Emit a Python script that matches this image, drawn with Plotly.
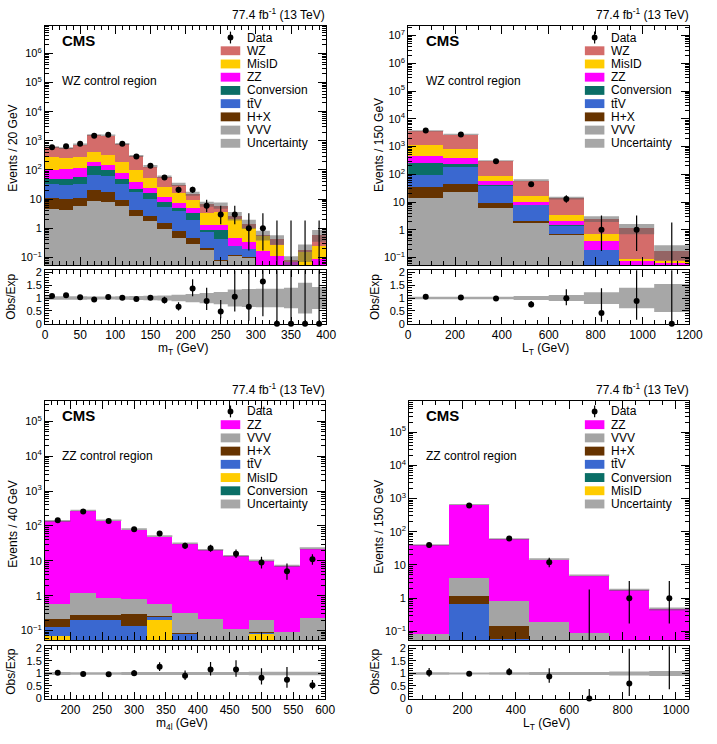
import plotly.graph_objects as go

W, H = 717, 744
FONT = "Liberation Sans, Arial, Helvetica, sans-serif"

# ================= DATA =================
# --- WZ control region, m_T (20 GeV bins) ---
mt_edges = [0, 20, 40, 60, 80, 100, 120, 140, 160, 180, 200, 220, 240, 260, 280, 300, 320, 340, 360, 380, 400]
mt_data = [600, 650, 800, 1500, 1600, 790, 290, 140, 55, 21, 21, 6, 3, 3, 1, 1, 0, 0, 0, 0]
mt_ratio = [1.08, 1.11, 1.03, 0.94, 1.04, 1.01, 0.96, 1.01, 0.91, 0.66, 1.37, 0.88, 0.47, 1.05, 0.66, 1.65, 0, 0, 0, 0]
mt_unc = [0.07, 0.07, 0.07, 0.06, 0.06, 0.07, 0.08, 0.09, 0.10, 0.13, 0.16, 0.20, 0.24, 0.33, 0.35, 0.36, 0.36, 0.40, 0.60, 0.43]
mt_VVV = [4.8, 4.4, 6.2, 8.9, 8.5, 6.0, 2.8, 1.8, 1.0, 0.49, 0.30, 0.19, 0.08, 0.12, 0.10, 0.01, 0.005, 0.002, 0.002, 0.005]
mt_HX = [6.7, 5.7, 5.3, 12, 9.0, 3.6, 1.6, 1.0, 0.56, 0.33, 0.16, 0.02, 0.005, 0.005, 0.003, 0.002, 0.001, 0.001, 0.001, 0.001]
mt_ttV = [22, 20.8, 23.7, 46, 44.5, 25.6, 13.1, 7.6, 4.1, 3.05, 1.56, 0.61, 0.35, 0.13, 0.09, 0.02, 0.01, 0.002, 0.003, 0.003]
mt_Conv = [18.6, 18.4, 24, 72, 37, 14.1, 5.1, 5.8, 2.75, 1.43, 1.38, 0.05, 0.43, 0, 0, 0, 0, 0, 0, 0]
mt_ZZ = [53, 64, 60, 51, 56, 33.7, 17.4, 8.9, 4.0, 2.5, 1.9, 0.43, 0.44, 0.24, 0.145, 0.14, 0.10, 0.07, 0.01, 0.08]
mt_MisID = [176, 147, 162, 246, 182, 117, 59, 29.6, 13.3, 8.4, 4.3, 2.1, 2.4, 1.7, 0.75, 0.41, 0.15, 0.002, 0.15, 0.17]
mt_WZ = [331, 300, 469, 1144, 1213, 580, 201, 80, 33, 16, 6.0, 3.4, 2.5, 0.55, 0.38, 0.02, 0.16, 0.002, 0.01, 0.35]
mt_xticks = [0, 50, 100, 150, 200, 250, 300, 350, 400]

# --- WZ control region, L_T (150 GeV bins) ---
lt3_edges = [0, 150, 300, 450, 600, 750, 900, 1050, 1200]
lt3_data = [3790, 2720, 298, 44, 13, 1, 1, 0]
lt3_ratio = [1.05, 1.02, 0.98, 0.75, 0.99, 0.42, 0.88, 0]
lt3_unc = [0.05, 0.05, 0.05, 0.08, 0.12, 0.23, 0.40, 0.55]
lt3_VVV = [14, 24.2, 6.2, 1.9, 0.7, 0.03, 0.005, 0.002]
lt3_HX = [20.5, 23.6, 3.1, 0.16, 0.02, 0.01, 0.001, 0.001]
lt3_ttV = [60, 139, 32, 6.0, 0.73, 0.15, 0.005, 0.002]
lt3_Conv = [172, 59, 1.5, 0.3, 0.05, 0, 0, 0]
lt3_ZZ = [193, 145, 14.6, 2.3, 0.57, 0.21, 0.07, 0.058]
lt3_MisID = [705, 448, 29, 6.7, 1.5, 0.3, 0.01, 0.015]
lt3_WZ = [2535, 1911, 223, 44, 10.4, 1.8, 1.07, 0.1]
lt3_xticks = [0, 200, 400, 600, 800, 1000, 1200]

# --- ZZ control region, m_4l (40 GeV bins) ---
m4l_edges = [160, 200, 240, 280, 320, 360, 400, 440, 480, 520, 560, 600]
m4l_data = [145, 261, 139, 81, 61, 27, 23, 16, 9, 5, 11]
m4l_ratio = [1.03, 0.98, 0.97, 1.01, 1.26, 0.91, 1.16, 1.16, 0.83, 0.75, 0.53]
m4l_unc = [0.06, 0.05, 0.05, 0.06, 0.06, 0.06, 0.06, 0.06, 0.07, 0.07, 0.07]
m4l_Conv = [0.003, 0, 0, 0, 0, 0, 0, 0, 0, 0, 0]
m4l_MisID = [0.07, 0, 0, 0, 0.21, 0, 0, 0, 0.085, 0, 0]
m4l_ttV = [0.06, 0.2, 0.2, 0.14, 0.05, 0.085, 0.002, 0, 0.005, 0, 0]
m4l_HX = [0.09, 0.09, 0.085, 0.175, 0.005, 0.003, 0.002, 0.001, 0.001, 0.001, 0.002]
m4l_VVV = [0.38, 0.95, 0.61, 0.5, 0.33, 0.24, 0.21, 0.115, 0.115, 0.09, 0.24]
m4l_ZZ = [138.4, 277.7, 144.1, 80.2, 50.4, 31.4, 20.3, 13.8, 10.0, 7.1, 22.6]
m4l_xticks = [200, 250, 300, 350, 400, 450, 500, 550, 600]

# --- ZZ control region, L_T (150 GeV bins) ---
lt4_edges = [0, 150, 300, 450, 600, 750, 900, 1050]
lt4_data = [40, 620, 63, 12, 0, 1, 1]
lt4_ratio = [1.03, 0.99, 1.06, 0.88, 0, 0.60, 2.13]
lt4_unc = [0.05, 0.04, 0.05, 0.06, 0.06, 0.08, 0.10]
lt4_MisID = [0, 0, 0, 0, 0, 0, 0]
lt4_Conv = [0, 0, 0.005, 0, 0, 0, 0]
lt4_ttV = [0, 0.7, 0.055, 0, 0, 0, 0]
lt4_HX = [0, 0.46, 0.09, 0, 0, 0, 0]
lt4_VVV = [0.085, 2.9, 0.72, 0.2, 0.09, 0.01, 0.005]
lt4_ZZ = [40.1, 659, 59.6, 14.8, 4.8, 1.77, 0.47]
lt4_xticks = [0, 200, 400, 600, 800, 1000]

# ================= STYLE =================
COLORS = {
    "WZ": "#d46c6a",
    "MisID": "#ffcc00",
    "ZZ": "#ff00ff",
    "Conversion": "#0a6e66",
    "ttV": "#3a68d0",
    "H+X": "#663300",
    "VVV": "#a4a4a4",
}
UNC_FILL = "rgba(95,95,95,0.55)"
LABELS = {"ttV": "t\u0074\u0304V"}

# Garwood 68% Poisson interval half-widths (low, high) for small counts
GARWOOD = {0: (0.0, 1.841), 1: (0.827, 2.299), 2: (1.292, 2.638), 3: (1.633, 2.918),
           4: (1.914, 3.162), 5: (2.159, 3.382), 6: (2.380, 3.583), 7: (2.581, 3.770),
           8: (2.768, 3.945), 9: (2.943, 4.110), 10: (3.108, 4.266)}


def poisson_err(n):
    if n in GARWOOD:
        return GARWOOD[n]
    s = n ** 0.5
    return (s, s + 1.0)


def px_x(p):
    return p / W


def px_y(p):
    return 1 - p / H


panels = [
    dict(edges=mt_edges, data=mt_data, ratio=mt_ratio, unc=mt_unc,
         stack=[("VVV", mt_VVV), ("H+X", mt_HX), ("ttV", mt_ttV), ("Conversion", mt_Conv),
                ("ZZ", mt_ZZ), ("MisID", mt_MisID), ("WZ", mt_WZ)],
         legend=["WZ", "MisID", "ZZ", "Conversion", "ttV", "H+X", "VVV"],
         xpx=(43, 331), main_ypx=(22, 265), ratio_ypx=(270, 324),
         yrange=(-1.272, 6.946), ytop=6, xticks=mt_xticks, xminor=10,
         xtitle="m<sub>T</sub> (GeV)", ytitle="Events / 20 GeV", region="WZ control region",
         ytitle_xy=(10, 146), obs_xy=(8, 297), xtitle_y=350,
         text_x=58, lumi_xy=(332, 10), top_y=22, leg_box_x=223, leg_text_x=248, leg_y0=34),
    dict(edges=lt3_edges, data=lt3_data, ratio=lt3_ratio, unc=lt3_unc,
         stack=[("VVV", lt3_VVV), ("H+X", lt3_HX), ("ttV", lt3_ttV), ("Conversion", lt3_Conv),
                ("ZZ", lt3_ZZ), ("MisID", lt3_MisID), ("WZ", lt3_WZ)],
         legend=["WZ", "MisID", "ZZ", "Conversion", "ttV", "H+X", "VVV"],
         xpx=(415, 703), main_ypx=(22, 265), ratio_ypx=(270, 324),
         yrange=(-1.284, 7.357), ytop=7, xticks=lt3_xticks, xminor=50,
         xtitle="L<sub>T</sub> (GeV)", ytitle="Events / 150 GeV", region="WZ control region",
         ytitle_xy=(385, 143), obs_xy=(381, 297), xtitle_y=350,
         text_x=431, lumi_xy=(705, 10), top_y=22, leg_box_x=596, leg_text_x=621, leg_y0=34),
    dict(edges=m4l_edges, data=m4l_data, ratio=m4l_ratio, unc=m4l_unc,
         stack=[("Conversion", m4l_Conv), ("MisID", m4l_MisID), ("ttV", m4l_ttV),
                ("H+X", m4l_HX), ("VVV", m4l_VVV), ("ZZ", m4l_ZZ)],
         legend=["ZZ", "VVV", "H+X", "ttV", "MisID", "Conversion"],
         xpx=(43, 330), main_ypx=(402, 645), ratio_ypx=(651, 704),
         yrange=(-1.282, 5.596), ytop=5, xticks=m4l_xticks, xminor=10,
         xtitle="m<sub>4l</sub> (GeV)", ytitle="Events / 40 GeV", region="ZZ control region",
         ytitle_xy=(10, 527), obs_xy=(8, 677), xtitle_y=730,
         text_x=58, lumi_xy=(332, 390), top_y=402, leg_box_x=223, leg_text_x=248, leg_y0=413),
    dict(edges=lt4_edges, data=lt4_data, ratio=lt4_ratio, unc=lt4_unc,
         stack=[("MisID", lt4_MisID), ("Conversion", lt4_Conv), ("ttV", lt4_ttV),
                ("H+X", lt4_HX), ("VVV", lt4_VVV), ("ZZ", lt4_ZZ)],
         legend=["ZZ", "VVV", "H+X", "ttV", "Conversion", "MisID"],
         xpx=(416, 703), main_ypx=(402, 645), ratio_ypx=(651, 704),
         yrange=(-1.268, 5.949), ytop=5, xticks=lt4_xticks, xminor=50,
         xtitle="L<sub>T</sub> (GeV)", ytitle="Events / 150 GeV", region="ZZ control region",
         ytitle_xy=(385, 530), obs_xy=(381, 677), xtitle_y=730,
         text_x=431, lumi_xy=(705, 390), top_y=402, leg_box_x=596, leg_text_x=621, leg_y0=413),
]

RATIO_TOP = 2.08

fig = go.Figure()
layout = {}
annotations = []
shapes = []

axis_base = dict(showline=True, linecolor="black", linewidth=1, mirror="ticks",
                 ticks="inside", tickcolor="black", tickwidth=1, showgrid=False,
                 zeroline=False, tickfont=dict(size=11, color="black", family=FONT))


def aname(prefix, n):
    return f"{prefix}axis" if n == 1 else f"{prefix}axis{n}"


def aref(prefix, n):
    return prefix if n == 1 else f"{prefix}{n}"


log_major = [10 ** d for d in range(-1, 8)]
log_text = ["10<sup>\u22121</sup>", "1", "10"] + [f"10<sup>{d}</sup>" for d in range(2, 8)]
log_minor = [k * 10 ** d for d in range(-2, 8) for k in range(2, 10)]

for i, p in enumerate(panels):
    m, r = 2 * i + 1, 2 * i + 2
    xm, ym, xr, yr = aref("x", m), aref("y", m), aref("x", r), aref("y", r)
    e = p["edges"]
    nb = len(e) - 1
    centers = [(e[k] + e[k + 1]) / 2 for k in range(nb)]
    widths = [e[k + 1] - e[k] for k in range(nb)]

    # stacked histograms
    for name, vals in p["stack"]:
        fig.add_trace(go.Bar(x=centers, y=vals, width=widths, name=name,
                             marker=dict(color=COLORS[name], line=dict(width=0)),
                             xaxis=xm, yaxis=ym, showlegend=False, hoverinfo="skip"))
    totals = [sum(vals[k] for _, vals in p["stack"]) for k in range(nb)]

    # uncertainty boxes on the stack
    ux, uy = [], []
    for k in range(nb):
        a, b = totals[k] * (1 - p["unc"][k]), totals[k] * (1 + p["unc"][k])
        ux += [e[k], e[k + 1], e[k + 1], e[k], e[k], None]
        uy += [a, a, b, b, a, None]
    fig.add_trace(go.Scatter(x=ux, y=uy, mode="lines", fill="toself", fillcolor=UNC_FILL,
                             line=dict(width=0, color="rgba(0,0,0,0)"),
                             xaxis=xm, yaxis=ym, showlegend=False, hoverinfo="skip"))

    # data error bars and points
    ex, ey = [], []
    for k in range(nb):
        n = p["data"][k]
        lo, hi = poisson_err(n)
        ex += [centers[k], centers[k], None]
        ey += [max(n - lo, 1e-4), n + hi, None]
    fig.add_trace(go.Scatter(x=ex, y=ey, mode="lines", line=dict(color="black", width=1.2),
                             xaxis=xm, yaxis=ym, showlegend=False, hoverinfo="skip"))
    dx = [centers[k] for k in range(nb) if p["data"][k] > 0]
    dy = [p["data"][k] for k in range(nb) if p["data"][k] > 0]
    fig.add_trace(go.Scatter(x=dx, y=dy, mode="markers", marker=dict(color="black", size=6),
                             xaxis=xm, yaxis=ym, showlegend=False, name="Data"))

    # ratio uncertainty band
    bx, by = [], []
    for k in range(nb):
        a, b = 1 - p["unc"][k], 1 + p["unc"][k]
        bx += [e[k], e[k + 1], e[k + 1], e[k], e[k], None]
        by += [a, a, b, b, a, None]
    fig.add_trace(go.Scatter(x=bx, y=by, mode="lines", fill="toself", fillcolor=UNC_FILL,
                             line=dict(width=0, color="rgba(0,0,0,0)"),
                             xaxis=xr, yaxis=yr, showlegend=False, hoverinfo="skip"))

    # ratio error bars
    rx, ry = [], []
    for k in range(nb):
        n, rv = p["data"][k], p["ratio"][k]
        lo, hi = poisson_err(n)
        if n > 0:
            a, b = rv - rv * lo / n, rv + rv * hi / n
        else:
            a, b = 0.0, hi / totals[k]
        rx += [centers[k], centers[k], None]
        ry += [a, b, None]
    fig.add_trace(go.Scatter(x=rx, y=ry, mode="lines", line=dict(color="black", width=1.2),
                             xaxis=xr, yaxis=yr, showlegend=False, hoverinfo="skip"))
    px_ = [centers[k] for k in range(nb) if p["ratio"][k] <= RATIO_TOP]
    py_ = [p["ratio"][k] for k in range(nb) if p["ratio"][k] <= RATIO_TOP]
    fig.add_trace(go.Scatter(x=px_, y=py_, mode="markers", marker=dict(color="black", size=6),
                             cliponaxis=False, xaxis=xr, yaxis=yr, showlegend=False))

    # axes
    xdom = [px_x(p["xpx"][0]), px_x(p["xpx"][1])]
    mdom = [px_y(p["main_ypx"][1]), px_y(p["main_ypx"][0])]
    rdom = [px_y(p["ratio_ypx"][1]), px_y(p["ratio_ypx"][0])]
    xrng = [e[0], e[-1]]
    xminor = dict(ticks="inside", ticklen=4, tickcolor="black", tick0=e[0], dtick=p["xminor"])

    layout[aname("x", m)] = dict(axis_base, domain=xdom, range=xrng, anchor=ym,
                                 tickmode="array", tickvals=p["xticks"], ticklen=8,
                                 showticklabels=False, minor=xminor)
    layout[aname("x", r)] = dict(axis_base, domain=xdom, range=xrng, anchor=yr,
                                 tickmode="array", tickvals=p["xticks"], ticklen=7,
                                 ticktext=[str(t) for t in p["xticks"]],
                                 tickfont=dict(size=12, color="black", family=FONT),
                                 minor=xminor)
    nt = p["ytop"] + 2
    layout[aname("y", m)] = dict(axis_base, domain=mdom, type="log", range=list(p["yrange"]),
                                 anchor=xm, tickmode="array", tickvals=log_major[:nt],
                                 ticktext=log_text[:nt], ticklen=8,
                                 minor=dict(ticks="inside", ticklen=4, tickcolor="black",
                                            tickmode="array", tickvals=log_minor))
    layout[aname("y", r)] = dict(axis_base, domain=rdom, range=[0, RATIO_TOP], anchor=xr,
                                 tickmode="array", tickvals=[0, 0.5, 1, 1.5, 2],
                                 ticktext=["0", "0.5", "1", "1.5", "2"], ticklen=7,
                                 minor=dict(ticks="inside", ticklen=4, tickcolor="black",
                                            tick0=0, dtick=0.1))

    # texts
    def ann(x, y, text, size=12, xanchor="left", angle=0, bold=False):
        annotations.append(dict(x=px_x(x), y=px_y(y), xref="paper", yref="paper",
                                text=f"<b>{text}</b>" if bold else text, showarrow=False,
                                xanchor=xanchor, yanchor="middle", textangle=angle,
                                font=dict(size=size, color="black", family=FONT)))

    ann(p["lumi_xy"][0], p["lumi_xy"][1], "77.4 fb<sup>-1</sup> (13 TeV)", 12, "right")
    ann(p["text_x"], p["top_y"] + 15, "CMS", 15, bold=True)
    ann(p["text_x"], p["top_y"] + 56, p["region"], 12)
    ann(p["ytitle_xy"][0], p["ytitle_xy"][1], p["ytitle"], 12, "center", -90)
    ann(p["obs_xy"][0], p["obs_xy"][1], "Obs/Exp", 12, "center", -90)
    ann((p["xpx"][0] + p["xpx"][1]) / 2 - 3, p["xtitle_y"], p["xtitle"], 12, "center")

    # legend (drawn manually, ROOT style)
    rows = ["Data"] + p["legend"] + ["Uncertainty"]
    bx0, tx = p["leg_box_x"], p["leg_text_x"]
    for j, lab in enumerate(rows):
        yc = p["leg_y0"] + 13.4 * j
        if lab == "Data":
            xc = bx0 + 10
            shapes.append(dict(type="line", xref="paper", yref="paper",
                               x0=px_x(xc), x1=px_x(xc), y0=px_y(yc - 6), y1=px_y(yc + 6),
                               line=dict(color="black", width=1.2)))
            shapes.append(dict(type="circle", xref="paper", yref="paper",
                               x0=px_x(xc - 3), x1=px_x(xc + 3), y0=px_y(yc - 3), y1=px_y(yc + 3),
                               fillcolor="black", line=dict(width=0)))
        else:
            col = UNC_FILL if lab == "Uncertainty" else COLORS[lab]
            shapes.append(dict(type="rect", xref="paper", yref="paper",
                               x0=px_x(bx0), x1=px_x(bx0 + 20), y0=px_y(yc + 4.5), y1=px_y(yc - 4.5),
                               fillcolor=col, line=dict(width=0)))
        ann(tx, yc, LABELS.get(lab, lab), 12)

fig.update_layout(**layout)
fig.update_layout(width=W, height=H, autosize=False, margin=dict(l=0, r=0, t=0, b=0),
                  barmode="stack", bargap=0, plot_bgcolor="white", paper_bgcolor="white",
                  showlegend=False, font=dict(family=FONT, color="black"),
                  annotations=annotations, shapes=shapes)

fig.write_html("out.html")
